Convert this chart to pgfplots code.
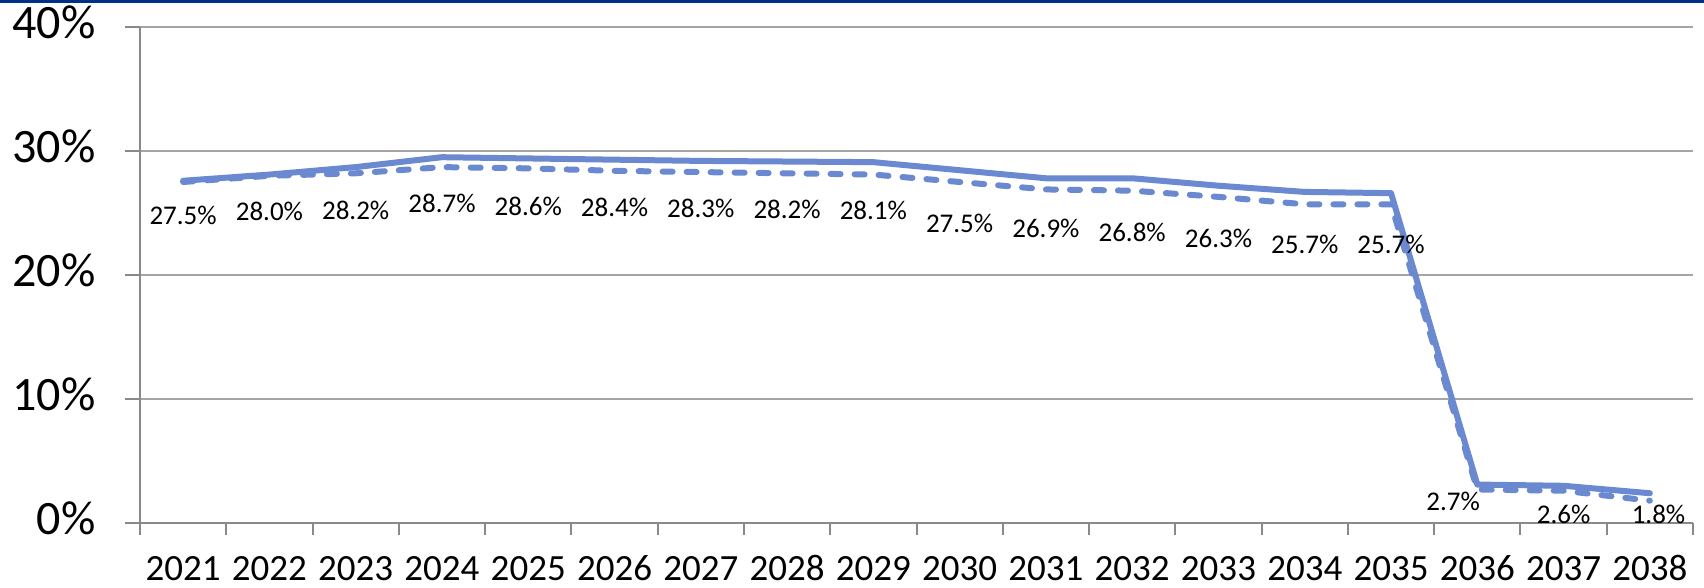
\documentclass[border=0pt]{standalone}
\usepackage{fontspec}
\setmainfont{Carlito}
\usepackage{pgfplots}
\usepackage{pgfplotstable}
\pgfplotsset{compat=1.18}
\definecolor{lineblue}{RGB}{106,137,208}
\definecolor{axgray}{RGB}{137,137,137}
\definecolor{gridgray}{RGB}{165,165,165}
\definecolor{navy}{RGB}{0,48,135}
\pgfplotstableread{
x solid dashed
0 27.6 27.5
1 28.1 28.0
2 28.7 28.2
3 29.5 28.7
4 29.4 28.6
5 29.3 28.4
6 29.2 28.3
7 29.15 28.2
8 29.1 28.1
9 28.45 27.5
10 27.8 26.9
11 27.8 26.8
12 27.2 26.3
13 26.7 25.7
14 26.6 25.7
15 3.1 2.7
16 3.0 2.6
17 2.4 1.8
}\data
\pgfplotstableread{
lx ly lab
0 24.84 27.5
1 25.16 28.0
2 25.24 28.2
3 25.81 28.7
4 25.56 28.6
5 25.48 28.4
6 25.40 28.3
7 25.32 28.2
8 25.24 28.1
9 24.19 27.5
10 23.79 26.9
11 23.47 26.8
12 22.98 26.3
13 22.50 25.7
14 22.50 25.7
14.72 1.77 2.7
16 0.73 2.6
17.10 0.73 1.8
}\labels
\begin{document}
\begin{tikzpicture}
\path[use as bounding box] (-70pt,-32.5pt) rectangle (782pt,261.5pt);
\fill[navy] (-70pt,260pt) rectangle (782pt,261.5pt);
\begin{axis}[at={(0,0)}, anchor=south west, scale only axis,
  width=776.5pt, height=248pt,
  xmin=-0.5, xmax=17.5, ymin=0, ymax=40,
  clip=false,
  axis x line*=bottom, axis y line*=left,
  axis line style={axgray, line width=1pt},
  /pgf/number format/assume math mode=true,
  xtick={0,...,17},
  xticklabels={2021,2022,2023,2024,2025,2026,2027,2028,2029,2030,2031,2032,2033,2034,2035,2036,2037,2038},
  major x tick style={opacity=0},
  minor xtick={-0.5,0.5,...,17.5},
  minor tick length=6pt,
  minor x tick style={axgray, line width=1pt},
  ytick={0,10,20,30,40},
  yticklabels={0\%,10\%,20\%,30\%,40\%},
  ymajorgrids,
  major grid style={gridgray, line width=1pt},
  major y tick style={axgray, line width=1pt},
  major tick length=7.5pt,
  tick align=outside,
  typeset ticklabels with strut=false,
  yticklabel style={anchor=east, inner sep=0pt, xshift=-14.5pt, font=\fontsize{24}{28}\selectfont},
  xticklabel style={anchor=north, inner sep=0pt, yshift=-6.5pt, font=\fontsize{18.5}{21}\selectfont},
]
\addplot[lineblue, line width=3pt, line cap=round, line join=round, mark=none]
  table[x=x, y=solid]{\data};
\addplot[lineblue, line width=3pt, line cap=round, line join=round, mark=none,
  dash pattern=on 5pt off 7pt]
  table[x=x, y=dashed]{\data};
\addplot[draw=none, mark=none, point meta=explicit symbolic,
  nodes near coords={\pgfplotspointmeta\%},
  every node near coord/.append style={anchor=center, black, inner sep=0pt,
     font=\fontsize{13.5}{15}\selectfont},
] table[x=lx, y=ly, meta=lab]{\labels};
\end{axis}
\end{tikzpicture}
\end{document}
